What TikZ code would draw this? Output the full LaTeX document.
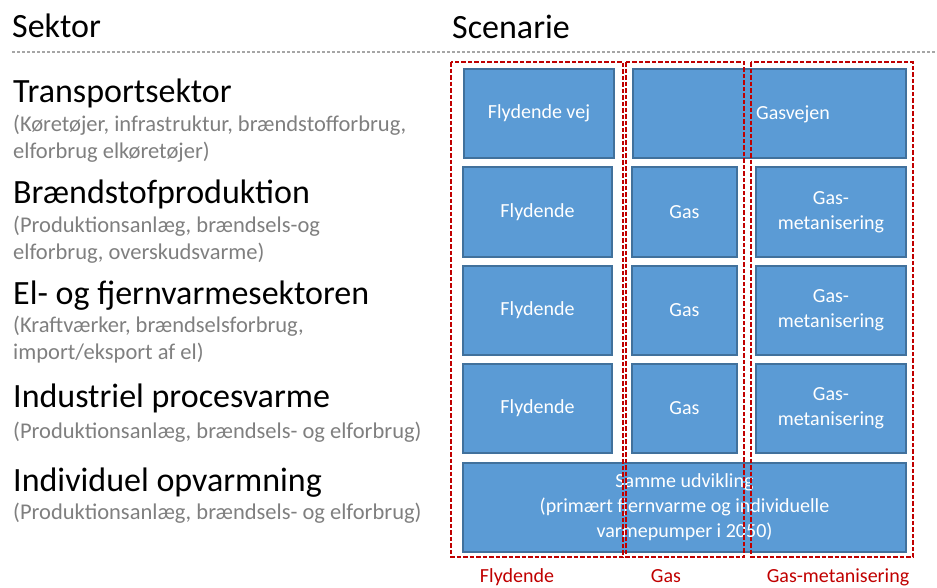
\documentclass[tikz,border=0pt]{standalone}
\usepackage{fontspec}
\setmainfont{Carlito}
\definecolor{boxblue}{HTML}{5B9BD5}
\definecolor{boxedge}{HTML}{41719C}
\definecolor{redd}{HTML}{C00000}
\definecolor{graytext}{HTML}{7F7F7F}
\definecolor{sepgray}{HTML}{A6A6A6}
\begin{document}
\begin{tikzpicture}[x=1pt,y=-1pt,
  head/.style={anchor=base west, inner sep=0pt, font=\fontsize{34}{40}\selectfont},
  sub/.style={anchor=base west, inner sep=0pt, text=graytext, font=\fontsize{22.5}{27}\selectfont},
  blk/.style={draw=boxedge, fill=boxblue, line width=1.3pt, text=white, align=center,
    font=\fontsize{20}{25}\selectfont, inner sep=0pt},
  blktext/.style={text=white, inner sep=0pt, font=\fontsize{20}{25}\selectfont},
  grp/.style={draw=redd, line width=2pt, dash pattern=on 4.5pt off 2pt},
  lbl/.style={anchor=base, inner sep=0pt, text=redd, font=\fontsize{20}{24}\selectfont}]
\useasboundingbox (0,0) rectangle (937,587);

% headers
\node[head] (sektor) at (12,37) {Sektor};
\node[head] (scenarie) at (452,38) {Scenarie};
\coordinate (sepA) at (12,52);
\coordinate (sepB) at (937,52);
\draw[sepgray, line width=1.3pt, dash pattern=on 3pt off 2pt] (sepA) -- (sepB);

% sector texts
\node[head] (t1) at (13,102) {Transportsektor};
\node[sub] (t1a) at (13,131) {(Køretøjer, infrastruktur, brændstofforbrug,};
\node[sub] (t1b) at (13,158) {elforbrug elkøretøjer)};
\node[head] (t2) at (13,203) {Brændstofproduktion};
\node[sub] (t2a) at (13,232) {(Produktionsanlæg, brændsels-og};
\node[sub] (t2b) at (13,259) {elforbrug, overskudsvarme)};
\node[head] (t3) at (13,304) {El- og fjernvarmesektoren};
\node[sub] (t3a) at (13,332) {(Kraftværker, brændselsforbrug,};
\node[sub] (t3b) at (13,359) {import/eksport af el)};
\node[head] (t4) at (13,407) {Industriel procesvarme};
\node[sub] (t4a) at (13,438) {(Produktionsanlæg, brændsels- og elforbrug)};
\node[head] (t5) at (13,491) {Individuel opvarmning};
\node[sub] (t5a) at (13,519) {(Produktionsanlæg, brændsels- og elforbrug)};

% row 1
\node[blk, minimum width=150pt, minimum height=89pt] (flv) at (539,113.5) {Flydende vej};
\node[blk, minimum width=273pt, minimum height=89pt] (gv) at (769.5,113.5) {};
\node[blktext] (gvt) at (793,114) {Gasvejen};
% row 2
\node[blk, minimum width=149pt, minimum height=90pt] (f2) at (537.5,212) {Flydende};
\node[blk, minimum width=105pt, minimum height=90pt] (g2) at (684.5,212) {Gas};
\node[blk, minimum width=150pt, minimum height=90pt] (m2) at (831,212) {Gas-\\metanisering};
% row 3
\node[blk, minimum width=149pt, minimum height=89pt] (f3) at (537.5,310.5) {Flydende};
\node[blk, minimum width=105pt, minimum height=89pt] (g3) at (684.5,310.5) {Gas};
\node[blk, minimum width=150pt, minimum height=89pt] (m3) at (831,310.5) {Gas-\\metanisering};
% row 4
\node[blk, minimum width=149pt, minimum height=89pt] (f4) at (537.5,408.5) {Flydende};
\node[blk, minimum width=105pt, minimum height=89pt] (g4) at (684.5,408.5) {Gas};
\node[blk, minimum width=150pt, minimum height=89pt] (m4) at (831,408.5) {Gas-\\metanisering};
% row 5
\node[blk, minimum width=443pt, minimum height=89pt] (r5) at (684.5,507.5)
  {Samme udvikling\\(primært fjernvarme og individuelle\\varmepumper i 2050)};

% scenario groups
\draw[grp] (451,62) rectangle (623,557);
\draw[grp] (626,62) rectangle (744,557);
\draw[grp] (751,62) rectangle (913,557);

% labels
\node[lbl] (lf) at (517,582) {Flydende};
\node[lbl] (lg) at (666,582) {Gas};
\node[lbl] (lm) at (838,582) {Gas-metanisering};
\end{tikzpicture}
\end{document}
